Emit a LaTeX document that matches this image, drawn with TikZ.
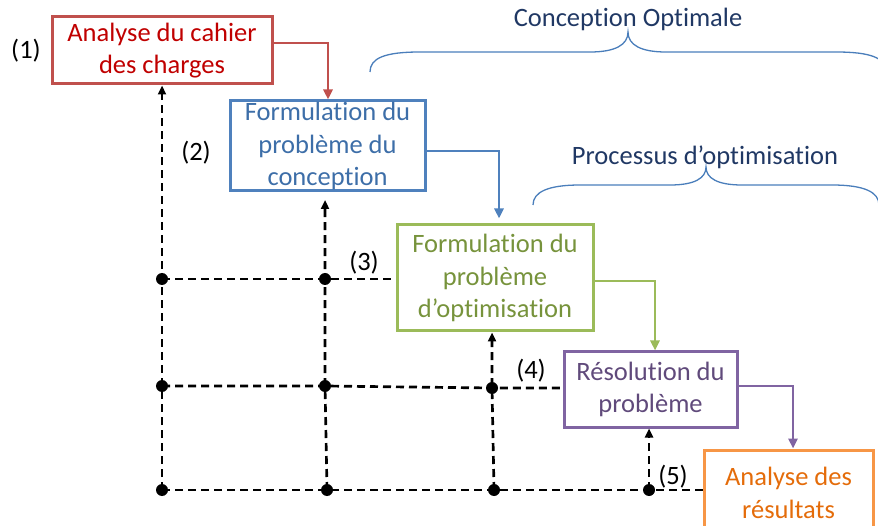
\documentclass[tikz,border=0pt]{standalone}
\usepackage{fontspec}
\setmainfont{Carlito}[Ligatures={NoCommon,NoContextual},Contextuals=NoAlternate]
\usetikzlibrary{arrows.meta}
\definecolor{redB}{HTML}{C0504D}\definecolor{redT}{HTML}{C00000}
\definecolor{bluB}{HTML}{4F81BD}\definecolor{bluT}{HTML}{3D6EA8}
\definecolor{grnB}{HTML}{9BBB59}\definecolor{grnT}{HTML}{77933C}
\definecolor{purB}{HTML}{8064A2}\definecolor{purT}{HTML}{604A7B}
\definecolor{orgB}{HTML}{F79646}\definecolor{orgT}{HTML}{E46C0A}
\definecolor{brT}{HTML}{203864}\definecolor{brL}{HTML}{4A7EBB}
\tikzset{
  txt/.style={font=\fontsize{26.5}{32.5}\selectfont},
  box/.style={txt, draw, line width=3pt, inner sep=0pt, align=center},
  flow/.style={line width=2.7pt, -{Triangle[length=10pt,width=9pt]}},
  dsh/.style={black, line width=2.7pt, dash pattern=on 8pt off 5pt},
  dsharrow/.style={dsh, -{Triangle[length=9pt,width=8pt]}},
  dot/.style={black},
  lbl/.style={txt, black},
  brace/.style={brL, line width=1.3pt}
}
\begin{document}
\begin{tikzpicture}[x=1pt,y=-1pt]
\useasboundingbox (0,0) rectangle (878,526);
% boxes
\node[box, draw=redB, text=redT, minimum width=220pt, minimum height=67pt] (b1) at (162,50.5) {Analyse du cahier\\des charges};
\node[box, draw=bluB, text=bluT, minimum width=195pt, minimum height=90pt] (b2) at (327.5,146) {Formulation du\\problème du\\conception};
\node[box, draw=grnB, text=grnT, minimum width=196pt, minimum height=106pt] (b3) at (495,278) {Formulation du\\problème\\d’optimisation};
\node[box, draw=purB, text=purT, minimum width=173pt, minimum height=75pt] (b4) at (650.5,389.5) {Résolution du\\problème};
\node[box, draw=orgB, text=orgT, minimum width=169pt, minimum height=86pt] (b5) at (788.5,493) {Analyse des\\résultats};
% flow arrows
\draw[flow, redB] ([yshift=7.5pt]b1.east) -| ([xshift=0.5pt]b2.north);
\draw[flow, bluB] ([yshift=-5pt]b2.east) -| ([xshift=4pt,yshift=5pt]b3.north);
\draw[flow, grnB] ([yshift=-3pt]b3.east) -| ([xshift=4.5pt]b4.north);
\draw[flow, purB] ([yshift=3.5pt]b4.east) -| ([xshift=4.5pt]b5.north);
% dashed network coordinates
\coordinate (d11) at (162,279);
\coordinate (d12) at (162,386);
\coordinate (d13) at (162,490);
\coordinate (d21) at (325,279);
\coordinate (d22) at (325,386);
\coordinate (d23) at (327,490);
\coordinate (d32) at (492,388);
\coordinate (d33) at (494,490);
\coordinate (d43) at (649,490);
\coordinate (t2) at (325,200);
% verticals
\draw[dsharrow] (d13) -- (d12) -- (d11) -- (b1.south -| d13);
\draw[dsharrow] (d23) -- (d22) -- (d21) -- (t2);
\draw[dsharrow] (d33) -- (d32) -- (d32 |- b3.south);
\draw[dsharrow] (d43) -- (d43 |- b4.south);
% horizontals
\draw[dsh] (d11) -- (d21) -- (d21 -| b3.west);
\draw[dsh] (d12) -- (d22) -- (d32) -- (d32 -| b4.west);
\draw[dsh] (d13) -- (d23) -- (d33) -- (d43) -- (d43 -| b5.west);
% dots
\foreach \p in {d11,d12,d13,d21,d22,d23,d32,d33,d43}
  \fill[dot] (\p) circle (6pt);
% step labels
\node[lbl] (l1) at (26,51) {(1)};
\node[lbl] (l2) at (196,153) {(2)};
\node[lbl] (l3) at (364,263) {(3)};
\node[lbl] (l4) at (531,371) {(4)};
\node[lbl] (l5) at (673,477) {(5)};
% braces
\draw[brace] (370,72) .. controls (370,58) and (385,52) .. (420,52) -- (590,52)
  .. controls (615,52) and (628,45) .. (628,32)
  .. controls (628,45) and (641,52) .. (666,52) -- (836,52)
  .. controls (871,52) and (886,58) .. (886,72);
\node[txt, text=brT] (c1) at (628,19) {Conception Optimale};
\draw[brace] (533,205) .. controls (533,192) and (548,185) .. (580,185) -- (670,185)
  .. controls (695,185) and (706,178) .. (706,167)
  .. controls (706,178) and (717,185) .. (742,185) -- (832,185)
  .. controls (864,185) and (879,192) .. (879,205);
\node[txt, text=brT] (c2) at (705,157) {Processus d’optimisation};
\end{tikzpicture}
\end{document}
